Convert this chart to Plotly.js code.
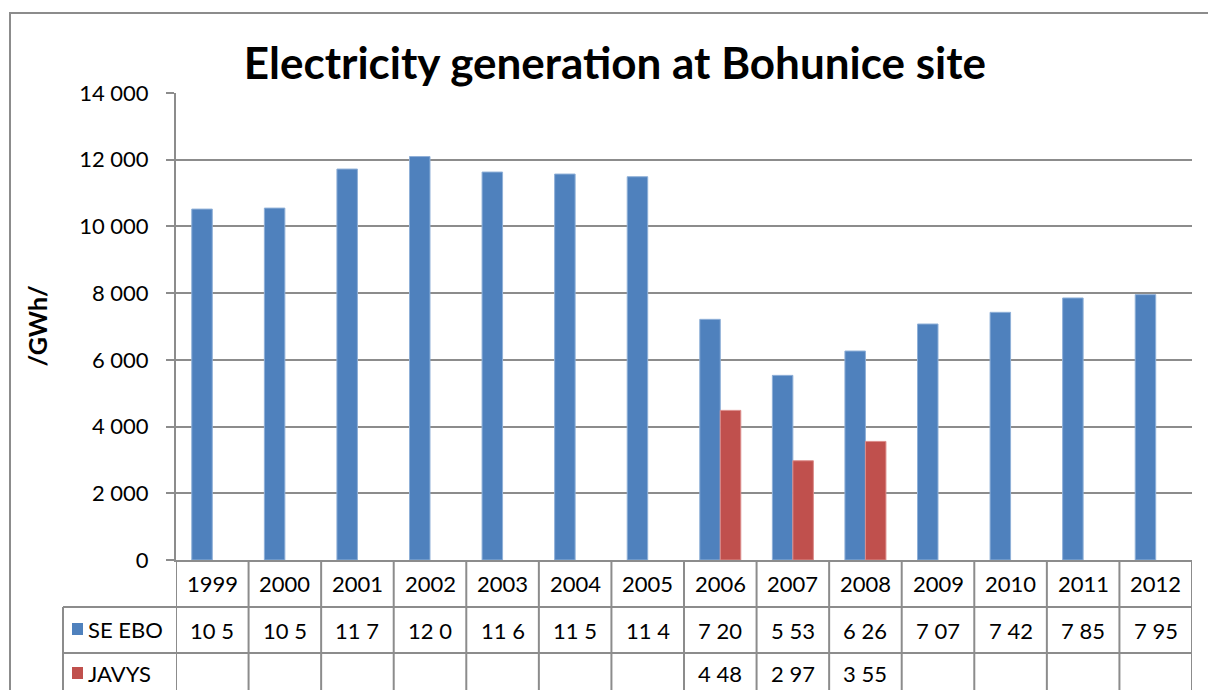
<!DOCTYPE html>
<html>
<head>
<meta charset="utf-8">
<script src="https://cdn.plot.ly/plotly-3.0.1.min.js"></script>
<style>html,body{margin:0;padding:0;background:#fff;}#chart{width:1208px;height:690px;}</style>
</head>
<body>
<div id="chart"></div>
<script>
const years = ["1999","2000","2001","2002","2003","2004","2005","2006","2007","2008","2009","2010","2011","2012"];
const seEbo = [10520, 10550, 11720, 12095, 11630, 11570, 11490, 7215, 5535, 6265, 7075, 7425, 7855, 7955];
const javys = [null, null, null, null, null, null, null, 4485, 2975, 3555, null, null, null, null];
const seEboTable = ["10 5","10 5","11 7","12 0","11 6","11 5","11 4","7 20","5 53","6 26","7 07","7 42","7 85","7 95"];
const javysTable = ["","","","","","","","4 48","2 97","3 55","","","",""];
const seriesNames = ["SE EBO", "JAVYS"];
const colors = ["#4F81BD", "#C0504D"];

const FONT = "Lato, 'Open Sans', sans-serif";
const W = 1208, H = 690, L = 176, R = 16, T = 93, B = 130;
const pw = W - L - R, ph = H - T - B;
const px2x = p => (p - L) / pw;
const py2y = p => (H - B - p) / ph;

const xs = years.map((_, i) => i);

const traces = [
  {type: 'bar', x: xs, y: seEbo, name: seriesNames[0], marker: {color: colors[0], line: {color: '#8fb0d8', width: 1}}, hoverinfo: 'y'},
  {type: 'bar', x: xs, y: javys, name: seriesNames[1], marker: {color: colors[1], line: {color: '#dc8c8a', width: 1}}, hoverinfo: 'y'}
];

const gridCol = '#8c8c8c';
const shapes = [];
const annotations = [];

// outer chart border
shapes.push({type: 'rect', xref: 'paper', yref: 'paper', x0: px2x(10), x1: px2x(1230), y0: py2y(720), y1: py2y(13), line: {color: '#8c8c8c', width: 2}, fillcolor: 'rgba(0,0,0,0)', layer: 'below'});

// table vertical lines (category boundaries)
years.forEach((_, i) => {
  shapes.push({type: 'line', xref: 'x', yref: 'paper', x0: i - 0.5, x1: i - 0.5, y0: 0, y1: py2y(720), line: {color: gridCol, width: 2}});
});
shapes.push({type: 'line', xref: 'x', yref: 'paper', x0: years.length - 0.5, x1: years.length - 0.5, y0: 0, y1: py2y(720), line: {color: gridCol, width: 2}});
// legend column left line
shapes.push({type: 'line', xref: 'paper', yref: 'paper', x0: px2x(63), x1: px2x(63), y0: py2y(607), y1: py2y(720), line: {color: gridCol, width: 2}});
// horizontal table lines
[607, 653].forEach(p => {
  shapes.push({type: 'line', xref: 'paper', yref: 'paper', x0: px2x(63), x1: 1, y0: py2y(p), y1: py2y(p), line: {color: gridCol, width: 2}});
});
// legend keys
[[629, 0], [673, 1]].forEach(([cy, k]) => {
  shapes.push({type: 'rect', xref: 'paper', yref: 'paper', x0: px2x(72), x1: px2x(83), y0: py2y(cy + 6), y1: py2y(cy - 6), line: {width: 0}, fillcolor: colors[k]});
  annotations.push({xref: 'paper', yref: 'paper', x: px2x(86), y: py2y(cy), text: seriesNames[k], showarrow: false, xanchor: 'left', yanchor: 'middle', font: {family: FONT, size: 22, color: '#000'}});
});

// table texts
years.forEach((yr, i) => {
  annotations.push({xref: 'x', yref: 'paper', x: i, y: py2y(583), text: yr, showarrow: false, yanchor: 'middle', font: {family: FONT, size: 22, color: '#000'}});
  annotations.push({xref: 'x', yref: 'paper', x: i, y: py2y(630), text: seEboTable[i], showarrow: false, yanchor: 'middle', font: {family: FONT, size: 22, color: '#000'}});
  if (javysTable[i]) annotations.push({xref: 'x', yref: 'paper', x: i, y: py2y(673), text: javysTable[i], showarrow: false, yanchor: 'middle', font: {family: FONT, size: 22, color: '#000'}});
});

// y axis title
annotations.push({xref: 'paper', yref: 'paper', x: px2x(36), y: 0.5, text: '<b>/GWh/</b>', textangle: -90, showarrow: false, xanchor: 'center', yanchor: 'middle', font: {family: FONT, size: 25, color: '#000'}});

const layout = {
  width: W, height: H,
  margin: {l: L, r: R, t: T, b: B, pad: 0},
  paper_bgcolor: '#fff', plot_bgcolor: '#fff',
  separators: '. ',
  showlegend: false,
  barmode: 'group',
  bargap: 0.435,
  bargroupgap: 0,
  title: {text: '<b>Electricity generation at Bohunice site</b>', font: {family: FONT, size: 44, color: '#000'}, xref: 'container', yref: 'container', x: 0.509, y: 1 - 64 / H, xanchor: 'center', yanchor: 'middle'},
  xaxis: {type: 'linear', range: [-0.5, years.length - 0.5], showticklabels: false, showgrid: false, zeroline: false, showline: true, linecolor: gridCol, linewidth: 2, ticks: '', fixedrange: true},
  yaxis: {range: [0, 14000], dtick: 2000, tickformat: ',', showgrid: true, gridcolor: gridCol, gridwidth: 2, zeroline: false, showline: true, linecolor: gridCol, linewidth: 2, ticks: 'outside', ticklen: 8, tickwidth: 2, tickcolor: gridCol, ticklabelstandoff: 13, tickfont: {family: FONT, size: 22, color: '#000'}, fixedrange: true},
  shapes: shapes,
  annotations: annotations
};

Plotly.newPlot('chart', traces, layout, {displayModeBar: false, staticPlot: true});
</script>
</body>
</html>
